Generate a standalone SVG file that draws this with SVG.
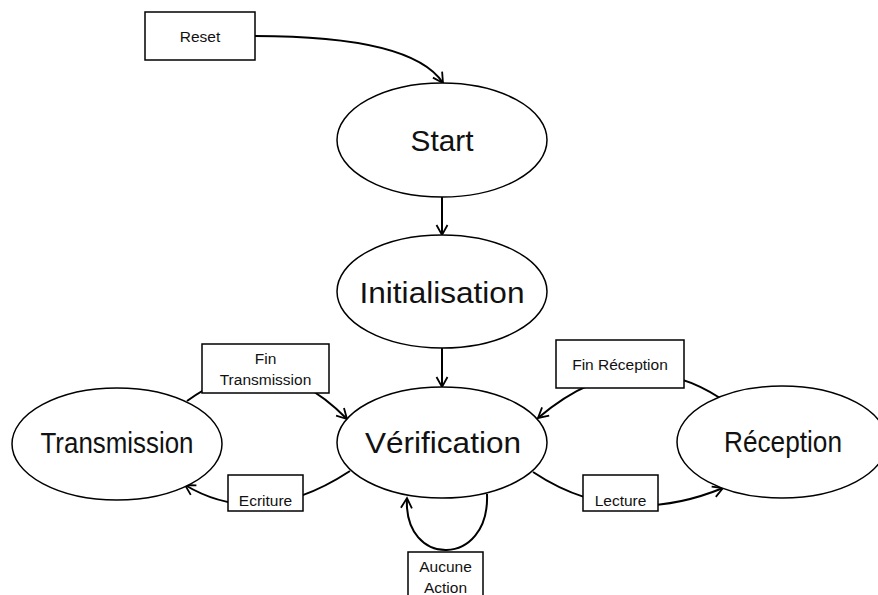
<svg xmlns="http://www.w3.org/2000/svg" width="878" height="595" viewBox="0 0 878 595">
  <style>
    .state { fill: #ffffff; stroke: #000000; stroke-width: 1.5; }
    .box { fill: #ffffff; stroke: #000000; stroke-width: 1.5; }
    .big { font-family: "Liberation Sans", Arial, sans-serif; font-size: 29px; fill: #111111; text-anchor: middle; }
    .small { font-family: "Liberation Sans", Arial, sans-serif; font-size: 15.5px; fill: #111111; text-anchor: middle; }
    .edge { fill: none; stroke: #000000; stroke-width: 2; marker-end: url(#arrow); }
  </style>
  <defs>
    <marker id="arrow" markerUnits="userSpaceOnUse" markerWidth="14" markerHeight="14" viewBox="-12 -7 14 14" refX="0" refY="0" orient="auto">
      <path d="M -10 -5.5 L 0 0 L -10 5.5" fill="none" stroke="#000000" stroke-width="1.8"/>
    </marker>
  </defs>

  <rect width="878" height="595" fill="#ffffff"/>

  <!-- connectors (drawn first so the label boxes sit over them) -->
  <g id="connectors">
    <path class="edge" d="M 255 36 C 345 36, 420 48, 443 83"/>
    <path class="edge" d="M 442 197 L 442 235"/>
    <path class="edge" d="M 442 348 L 442 387"/>
    <path class="edge" d="M 187 401 Q 270 340 347 419"/>
    <path class="edge" d="M 350 471 Q 260 530 185 485"/>
    <path class="edge" d="M 720 398 Q 630 340 538 418"/>
    <path class="edge" d="M 533 472 Q 620 530 723 488"/>
    <path class="edge" d="M 487 494 C 490 568, 403 568, 407 498"/>
  </g>

  <!-- states -->
  <g id="start">
    <ellipse class="state" cx="442" cy="140" rx="105" ry="57"/>
    <text class="big" x="442" y="151" textLength="63" lengthAdjust="spacingAndGlyphs">Start</text>
  </g>
  <g id="initialisation">
    <ellipse class="state" cx="442" cy="291.5" rx="105" ry="56.5"/>
    <text class="big" x="442" y="303" textLength="165" lengthAdjust="spacingAndGlyphs">Initialisation</text>
  </g>
  <g id="verification">
    <ellipse class="state" cx="442" cy="442.5" rx="105" ry="55.5"/>
    <text class="big" x="443" y="453" textLength="156" lengthAdjust="spacingAndGlyphs">Vérification</text>
  </g>
  <g id="transmission">
    <ellipse class="state" cx="117" cy="444" rx="105" ry="56"/>
    <text class="big" x="117" y="453" textLength="153" lengthAdjust="spacingAndGlyphs">Transmission</text>
  </g>
  <g id="reception">
    <ellipse class="state" cx="782" cy="442" rx="105" ry="56"/>
    <text class="big" x="783" y="452" textLength="118" lengthAdjust="spacingAndGlyphs">Réception</text>
  </g>

  <!-- event labels -->
  <g id="reset">
    <rect class="box" x="145" y="12" width="110" height="48"/>
    <text class="small" x="200" y="42">Reset</text>
  </g>
  <g id="fin-transmission">
    <rect class="box" x="202" y="344" width="127" height="49"/>
    <text class="small" x="265.5" y="364">Fin</text>
    <text class="small" x="265.5" y="385">Transmission</text>
  </g>
  <g id="ecriture">
    <rect class="box" x="228" y="475" width="75" height="36"/>
    <text class="small" x="265.5" y="506">Ecriture</text>
  </g>
  <g id="fin-reception">
    <rect class="box" x="556" y="340" width="128" height="48"/>
    <text class="small" x="620" y="370">Fin Réception</text>
  </g>
  <g id="lecture">
    <rect class="box" x="583" y="475" width="75" height="36"/>
    <text class="small" x="620.5" y="506">Lecture</text>
  </g>
  <g id="aucune-action">
    <rect class="box" x="408" y="552" width="75" height="50"/>
    <text class="small" x="445.5" y="572">Aucune</text>
    <text class="small" x="445.5" y="593">Action</text>
  </g>
</svg>
